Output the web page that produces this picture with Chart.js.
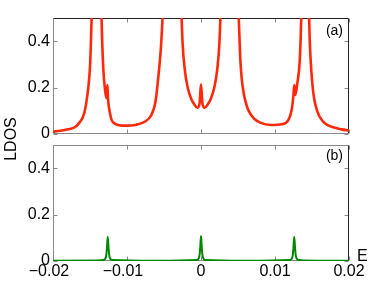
<!DOCTYPE html>
<html>
<head>
<meta charset="utf-8">
<script src="https://cdn.jsdelivr.net/npm/chart.js"></script>
<style>
  html, body { margin: 0; padding: 0; background: #fff; }
  #wrap { position: relative; width: 382px; height: 287px; }
  #wrap canvas { position: absolute; left: 0; top: 0; }
</style>
</head>
<body>
<div id="wrap">
  <canvas id="chartA" width="382" height="287"></canvas>
  <canvas id="chartB" width="382" height="287"></canvas>
</div>
<script>
// 能量轴刻度
const xTicks = [-0.02, -0.01, 0, 0.01, 0.02];
const yTicks = [0, 0.2, 0.4];

// (a) 红色曲线：能量与 LDOS（峰顶超出 0.5，被坐标区裁掉）
const energyA = [
  -0.0200, -0.0190, -0.0180, -0.0170, -0.0164, -0.0160, -0.0157, -0.0155, -0.0152, -0.0150,
  -0.0149, -0.0148, -0.0147, -0.0145, -0.0141, -0.0137, -0.0135, -0.0134, -0.0132, -0.0130,
  -0.01285, -0.01275, -0.01265, -0.0126, -0.0125, -0.0123, -0.0121, -0.0116, -0.0103, -0.0089,
  -0.0076, -0.0067, -0.0062, -0.0060, -0.0058, -0.0056, -0.0054, -0.0052, -0.0050, -0.0046,
  -0.0039, -0.0030, -0.0027, -0.0025, -0.0022, -0.0018, -0.0013, -0.0009, -0.0005, -0.0002,
  0, 0.0002, 0.0005, 0.0009, 0.0013, 0.0018, 0.0022, 0.0025, 0.0027, 0.0030,
  0.0039, 0.0046, 0.0049, 0.0051, 0.0053, 0.0055, 0.0058, 0.0061, 0.0064, 0.0071,
  0.0080, 0.0095, 0.0109, 0.0118, 0.01225, 0.01247, 0.0126, 0.01275, 0.0130, 0.01335,
  0.0135, 0.0137, 0.0140, 0.0144, 0.01462, 0.0147, 0.0151, 0.0157, 0.0166, 0.0180,
  0.0190, 0.0200
];
const ldosA = [
  0.010, 0.014, 0.020, 0.030, 0.050, 0.070, 0.100, 0.135, 0.210, 0.290,
  0.370, 0.480, 0.630, 1.100, 3.000, 1.200, 0.600, 0.450, 0.280, 0.200,
  0.165, 0.155, 0.211, 0.170, 0.130, 0.090, 0.062, 0.044, 0.036, 0.039,
  0.053, 0.082, 0.130, 0.175, 0.235, 0.300, 0.380, 0.500, 0.700, 1.500,
  3.000, 1.200, 0.600, 0.400, 0.280, 0.200, 0.150, 0.127, 0.113, 0.130,
  0.214, 0.130, 0.113, 0.127, 0.150, 0.200, 0.280, 0.400, 0.600, 1.200,
  3.000, 1.500, 0.750, 0.500, 0.330, 0.240, 0.170, 0.130, 0.103, 0.068,
  0.049, 0.039, 0.042, 0.060, 0.103, 0.160, 0.211, 0.168, 0.215, 0.320,
  0.450, 0.800, 3.000, 1.000, 0.500, 0.400, 0.200, 0.100, 0.050, 0.028,
  0.020, 0.015
];

// (b) 绿色曲线：三个窄峰
const energyB = [
  -0.0200, -0.0140, -0.0132, -0.0129, -0.0128, -0.0127, -0.0126, -0.0125, -0.0124, -0.0123,
  -0.0120, -0.0060, -0.0006, -0.0003, -0.0002, -0.0001, 0, 0.0001, 0.0002, 0.0003,
  0.0006, 0.0060, 0.0120, 0.0123, 0.0124, 0.0125, 0.0126, 0.0127, 0.0128, 0.0129,
  0.0132, 0.0140, 0.0200
];
const ldosB = [
  0.001, 0.002, 0.004, 0.012, 0.025, 0.060, 0.104, 0.060, 0.025, 0.012,
  0.004, 0.001, 0.004, 0.012, 0.025, 0.060, 0.108, 0.060, 0.025, 0.012,
  0.004, 0.001, 0.004, 0.012, 0.025, 0.060, 0.104, 0.060, 0.025, 0.012,
  0.004, 0.002, 0.001
];

const FONT = 'Liberation Sans, Arial, Helvetica, sans-serif';

function toPoints(xs, ys) {
  return xs.map((x, i) => ({ x: x, y: ys[i] }));
}

// 负数标签在原图中略偏左，用一个 en space 把它往左推一点
function fmtTick(v) {
  if (Math.abs(v) < 1e-12) return '0';
  const s = String(Math.abs(v));
  return v < 0 ? '\u2212' + s + '\u2002' : s;
}

function fmtYTick(v) {
  if (Math.abs(v) < 1e-12) return '0';
  return String(v);
}

// 边框和朝内的刻度线
const framePlugin = {
  id: 'frame',
  beforeDatasetsDraw(chart) {
    const { ctx, chartArea: a, scales } = chart;
    const x = scales.x, y = scales.y;
    const L = Math.round(a.left) + 0.5, R = Math.round(a.right) - 0.5;
    const T = Math.round(a.top) + 0.5, B = Math.round(a.bottom) - 0.5;
    ctx.save();
    ctx.lineWidth = 1;
    function seg(x1, y1, x2, y2, c) {
      ctx.strokeStyle = c;
      ctx.beginPath();
      ctx.moveTo(x1, y1);
      ctx.lineTo(x2, y2);
      ctx.stroke();
    }
    const dark = '#222', light = '#8a8a8a';
    xTicks.forEach(v => {
      const px = Math.round(x.getPixelForValue(v)) + 0.5;
      seg(px, T, px, T + 4, light);
      seg(px, B, px, B - 4, light);
    });
    yTicks.forEach(v => {
      const py = Math.round(y.getPixelForValue(v)) + 0.5;
      seg(L, py, L + 4, py, light);
      seg(R, py, R - 4, py, light);
    });
    const top = chart.canvas.id === 'chartA';
    seg(L, T, R, T, top ? dark : light);
    seg(R, T, R, B, dark);
    seg(L, B, R, B, light);
    seg(L, T, L, B, light);
    ctx.restore();
  }
};

// 面板标注文字
const textPlugin = {
  id: 'texts',
  afterDraw(chart, args, opts) {
    const { ctx, chartArea: a } = chart;
    ctx.save();
    ctx.fillStyle = '#000';
    (opts.items || []).forEach(t => {
      ctx.save();
      ctx.font = t.font;
      ctx.textAlign = t.align || 'left';
      ctx.textBaseline = t.baseline || 'alphabetic';
      const px = t.fromLeft !== undefined ? t.fromLeft : a.right + t.dx;
      const py = a.top + t.dy;
      ctx.translate(px, py);
      if (t.rotate) ctx.rotate(t.rotate);
      ctx.fillText(t.text, 0, 0);
      ctx.restore();
    });
    ctx.restore();
  }
};

function yScale() {
  return {
    min: 0,
    max: 0.5,
    afterBuildTicks: s => { s.ticks = yTicks.map(v => ({ value: v })); },
    afterFit: s => { s.width = 53; },
    grid: { display: false, drawTicks: false },
    border: { display: false },
    ticks: {
      padding: 3,
      color: '#000',
      font: { family: FONT, size: 16 },
      callback: v => fmtYTick(v)
    }
  };
}

function xScale(showLabels) {
  return {
    type: 'linear',
    min: -0.02,
    max: 0.02,
    display: showLabels,
    afterBuildTicks: s => { s.ticks = xTicks.map(v => ({ value: v })); },
    afterFit: s => { s.height = showLabels ? 26 : 0; },
    grid: { display: false, drawTicks: false },
    border: { display: false },
    ticks: {
      padding: 1,
      maxRotation: 0,
      autoSkip: false,
      color: '#000',
      font: { family: FONT, size: 16 },
      callback: v => fmtTick(v)
    }
  };
}

Chart.defaults.devicePixelRatio = 1;

window.chartA = new Chart(document.getElementById('chartA'), {
  type: 'line',
  data: {
    datasets: [{
      data: toPoints(energyA, ldosA),
      borderColor: 'rgb(255, 40, 10)',
      borderWidth: 2.6,
      pointRadius: 0,
      fill: false,
      cubicInterpolationMode: 'monotone'
    }]
  },
  options: {
    responsive: false,
    animation: false,
    layout: { padding: { top: 18, bottom: 153, left: 0, right: 33 } },
    scales: { x: xScale(false), y: yScale() },
    plugins: {
      legend: { display: false },
      tooltip: { enabled: false },
      texts: {
        items: [
          { text: '(a)', dx: -6, dy: 13, font: '14px ' + FONT, align: 'right', baseline: 'middle' }
        ]
      }
    }
  },
  plugins: [framePlugin, textPlugin]
});

window.chartB = new Chart(document.getElementById('chartB'), {
  type: 'line',
  data: {
    datasets: [{
      data: toPoints(energyB, ldosB),
      borderColor: 'rgb(0, 135, 0)',
      borderWidth: 2,
      pointRadius: 0,
      fill: false,
      cubicInterpolationMode: 'monotone'
    }]
  },
  options: {
    responsive: false,
    animation: false,
    layout: { padding: { top: 145, bottom: 0, left: 0, right: 33 } },
    scales: { x: xScale(true), y: yScale() },
    plugins: {
      legend: { display: false },
      tooltip: { enabled: false },
      texts: {
        items: [
          { text: '(b)', dx: -6, dy: 11, font: '14px ' + FONT, align: 'right', baseline: 'middle' },
          { text: 'E', dx: 8, dy: 116, font: '16px ' + FONT, align: 'left', baseline: 'alphabetic' },
          { text: 'LDOS', fromLeft: 12, dy: -6, font: '16px ' + FONT, align: 'center', baseline: 'middle', rotate: -Math.PI / 2 }
        ]
      }
    }
  },
  plugins: [framePlugin, textPlugin]
});
</script>
</body>
</html>
